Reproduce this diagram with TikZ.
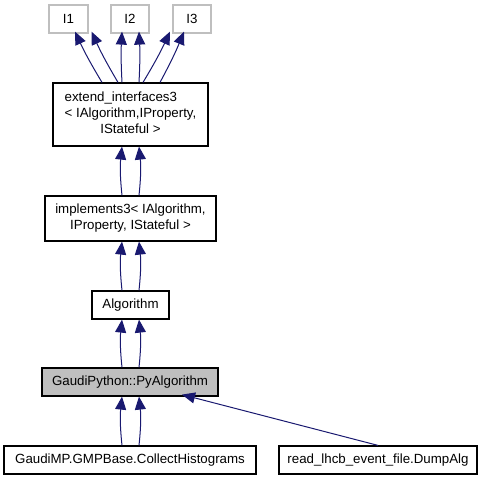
\documentclass[tikz,border=0pt]{standalone}
\usepackage{fontspec}
\setmainfont{Liberation Sans}
\usetikzlibrary{arrows.meta}
\definecolor{edgeblue}{HTML}{191970}
\definecolor{greybox}{HTML}{BFBFBF}
\tikzset{
  box/.style={draw=black, line width=1.2pt, fill=white, inner sep=0pt, font=\fontsize{13.3}{16}\selectfont, align=center},
  ibox/.style={box, draw=greybox},
  curbox/.style={box, fill=greybox},
  inh/.style={draw=edgeblue, line width=1pt, {Triangle[length=13pt,width=11pt]}-},
}
\begin{document}
\begin{tikzpicture}[x=1pt,y=-1pt]
\useasboundingbox (0,0) rectangle (483,480);
\node[ibox, minimum width=39pt, minimum height=28pt] (I1) at (68.5,19) {I1};
\node[ibox, minimum width=38pt, minimum height=28pt] (I2) at (130,19) {I2};
\node[ibox, minimum width=38pt, minimum height=28pt] (I3) at (192,19) {I3};
\node[box, minimum width=155pt, minimum height=63pt] (ext) at (130.5,114.5)
  {\begin{tabular}{@{}l@{}}extend\_interfaces3\\ < IAlgorithm,IProperty,\\ \multicolumn{1}{@{}c@{}}{IStateful >}\end{tabular}};
\node[box, minimum width=171pt, minimum height=45pt] (impl) at (130.5,218.5)
  {implements3< IAlgorithm,\\ IProperty, IStateful >};
\node[box, minimum width=77pt, minimum height=28pt] (alg) at (130.5,305) {Algorithm};
\node[curbox, minimum width=176pt, minimum height=28pt] (py) at (130,382) {GaudiPython::PyAlgorithm};
\node[box, minimum width=252pt, minimum height=28pt] (col) at (130,460) {GaudiMP.GMPBase.CollectHistograms};
\node[box, minimum width=198pt, minimum height=28pt] (dump) at (378,460) {read\_lhcb\_event\_file.DumpAlg};

% ext -> I1, I2, I3
\draw[inh] ([xshift=6.5pt,yshift=2pt]I1.south) to[bend right=3] ([xshift=-28.5pt]ext.north);
\draw[inh] ([xshift=23pt,yshift=2pt]I1.south) to[bend right=3] ([xshift=-12.5pt]ext.north);
\draw[inh] ([xshift=-8pt,yshift=2pt]I2.south) to[bend right=3] ([xshift=-8.5pt]ext.north);
\draw[inh] ([xshift=9pt,yshift=2pt]I2.south) to[bend left=3] ([xshift=8.5pt]ext.north);
\draw[inh] ([xshift=-22pt,yshift=2pt]I3.south) to[bend left=3] ([xshift=12.5pt]ext.north);
\draw[inh] ([xshift=-8pt,yshift=2pt]I3.south) to[bend left=3] ([xshift=29.5pt]ext.north);
% impl -> ext
\draw[inh] ([xshift=-8.5pt]ext.south) to[bend right=6] ([xshift=-8.5pt]impl.north);
\draw[inh] ([xshift=8.5pt]ext.south) to[bend left=6] ([xshift=8.5pt]impl.north);
% alg -> impl
\draw[inh] ([xshift=-8.5pt]impl.south) to[bend right=6] ([xshift=-8.5pt]alg.north);
\draw[inh] ([xshift=8.5pt]impl.south) to[bend left=6] ([xshift=8.5pt]alg.north);
% py -> alg
\draw[inh] ([xshift=-8.5pt]alg.south) to[bend right=6] ([xshift=-8pt]py.north);
\draw[inh] ([xshift=8.5pt]alg.south) to[bend left=6] ([xshift=9pt]py.north);
% col -> py
\draw[inh] ([xshift=-8pt]py.south) to[bend right=6] ([xshift=-8pt]col.north);
\draw[inh] ([xshift=9pt]py.south) to[bend left=6] ([xshift=9pt]col.north);
% dump -> py
\draw[inh] ([xshift=52pt,yshift=2pt]py.south) -- (dump.north);
\end{tikzpicture}
\end{document}
